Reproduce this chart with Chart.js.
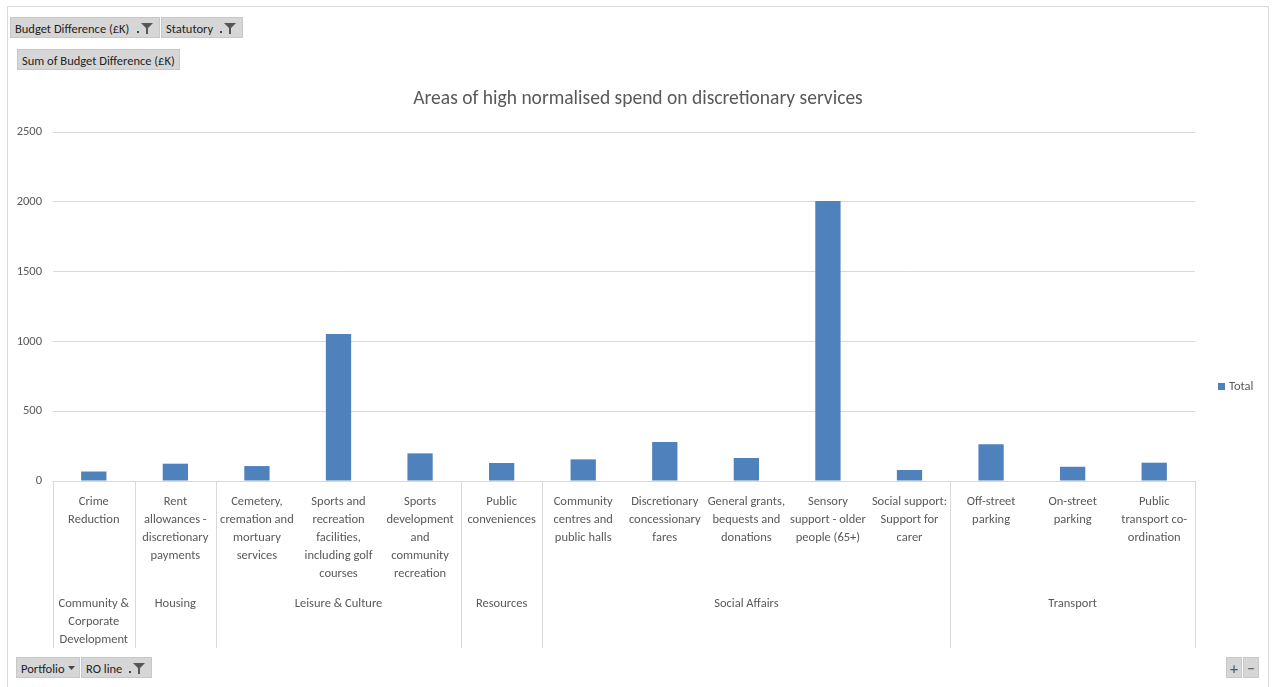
<!DOCTYPE html>
<html>
<head>
<meta charset="utf-8">
<title>Areas of high normalised spend on discretionary services</title>
<script src="https://cdn.jsdelivr.net/npm/chart.js@4.4.1/dist/chart.umd.min.js"></script>
<style>
  html, body { margin: 0; padding: 0; background: #fff; }
  body { width: 1274px; height: 687px; position: relative; overflow: hidden;
         font-family: Carlito, Lato, "Liberation Sans", sans-serif; }
  #frame { position: absolute; left: 7px; top: 6px; width: 1262px; height: 690px;
           border: 1px solid #d9d9d9; box-sizing: border-box; }
  #wrap { position: absolute; left: 0; top: 0; width: 1274px; height: 687px; }
  .btn { position: absolute; height: 21px; line-height: 21px; background: #d6d6d6;
         border: 1px solid #c8c8c8; box-sizing: border-box; font-size: 12.5px;
         color: #1f1f1f; padding: 0 4px; white-space: nowrap; }
  .btn svg { position: absolute; top: 4px; }
</style>
</head>
<body>
<div id="frame"></div>
<div id="wrap"><canvas id="grafico" width="1274" height="687"></canvas></div>

<div class="btn" style="left:10px;top:17px;width:150px;">Budget Difference (£K)
  <svg style="right:4px" width="20" height="13" viewBox="0 0 20 13"><rect x="2" y="9" width="2" height="2" fill="#444"/><path d="M6 1h12l-5 5v6h-2V6z" fill="#555"/></svg></div>
<div class="btn" style="left:161px;top:17px;width:82px;">Statutory
  <svg style="right:4px" width="20" height="13" viewBox="0 0 20 13"><rect x="2" y="9" width="2" height="2" fill="#444"/><path d="M6 1h12l-5 5v6h-2V6z" fill="#555"/></svg></div>
<div class="btn" style="left:17px;top:49px;width:163px;">Sum of Budget Difference (£K)</div>

<div class="btn" style="left:16px;top:657px;width:64px;">Portfolio
  <svg style="right:4px;top:8px" width="7" height="5" viewBox="0 0 7 5"><path d="M0 0h7L3.5 4z" fill="#444"/></svg></div>
<div class="btn" style="left:81px;top:657px;width:71px;">RO line
  <svg style="right:4px" width="20" height="13" viewBox="0 0 20 13"><rect x="2" y="9" width="2" height="2" fill="#444"/><path d="M6 1h12l-5 5v6h-2V6z" fill="#555"/></svg></div>
<div class="btn" style="left:1226px;top:657px;width:16px;padding:0;text-align:center;color:#555;font-size:16px;">+</div>
<div class="btn" style="left:1243px;top:657px;width:16px;padding:0;text-align:center;color:#555;font-size:16px;">−</div>

<script>
// categorías (una línea por elemento del array) y su portfolio
const categorias = [
  ["Crime", "Reduction"],
  ["Rent", "allowances -", "discretionary", "payments"],
  ["Cemetery,", "cremation and", "mortuary", "services"],
  ["Sports and", "recreation", "facilities,", "including golf", "courses"],
  ["Sports", "development", "and", "community", "recreation"],
  ["Public", "conveniences"],
  ["Community", "centres and", "public halls"],
  ["Discretionary", "concessionary", "fares"],
  ["General grants,", "bequests and", "donations"],
  ["Sensory", "support - older", "people (65+)"],
  ["Social support:", "Support for", "carer"],
  ["Off-street", "parking"],
  ["On-street", "parking"],
  ["Public", "transport co-", "ordination"]
];
const grupos = [
  ["Community &", "Corporate", "Development"],
  ["Housing"],
  ["Leisure & Culture"],
  ["Resources"],
  ["Social Affairs"],
  ["Transport"]
];
// cuántas categorías entran en cada grupo
const tamGrupos = [1, 1, 3, 1, 5, 3];
const totales = [68, 124, 107, 1053, 198, 129, 155, 279, 165, 2006, 79, 263, 102, 131];
const ticksY = [0, 500, 1000, 1500, 2000, 2500];

const FUENTE = "Carlito, Lato, 'Liberation Sans', sans-serif";
const GRIS = "#595959";
const LINEA = "#d9d9d9";

// etiquetas de portfolio y separadores debajo del eje X
const ejeAgrupado = {
  id: "ejeAgrupado",
  afterDraw(chart) {
    const ctx = chart.ctx;
    const x = chart.scales.x;
    const area = chart.chartArea;
    const paso = x.getPixelForValue(1) - x.getPixelForValue(0);
    const abajo = 648;

    ctx.save();
    ctx.strokeStyle = LINEA;
    ctx.lineWidth = 1;
    let i = 0;
    const bordes = [area.left];
    tamGrupos.forEach((n) => { i += n; bordes.push(x.getPixelForValue(i - 1) + paso / 2); });
    bordes.forEach((b) => {
      const px = Math.round(b) + 0.5;
      ctx.beginPath();
      ctx.moveTo(px, area.bottom);
      ctx.lineTo(px, abajo);
      ctx.stroke();
    });

    ctx.fillStyle = GRIS;
    ctx.font = "12.5px " + FUENTE;
    ctx.textAlign = "center";
    ctx.textBaseline = "middle";
    grupos.forEach((g, k) => {
      const cx = (bordes[k] + bordes[k + 1]) / 2;
      g.forEach((linea, j) => ctx.fillText(linea, cx, 604 + j * 18));
    });

    // leyenda
    ctx.fillStyle = "#4f81bd";
    ctx.fillRect(1218, 383, 7, 7);
    ctx.fillStyle = GRIS;
    ctx.textAlign = "left";
    ctx.fillText("Total", 1229, 387);
    ctx.restore();
  }
};

new Chart(document.getElementById("grafico"), {
  type: "bar",
  data: {
    labels: categorias,
    datasets: [{
      label: "Total",
      data: totales,
      backgroundColor: "#4f81bd",
      borderWidth: 0,
      categoryPercentage: 1,
      barPercentage: 0.31
    }]
  },
  options: {
    responsive: false,
    animation: false,
    layout: { padding: { left: 0, right: 79, top: 132, bottom: 0 } },
    plugins: {
      legend: { display: false },
      tooltip: { enabled: false },
      title: { display: false }
    },
    scales: {
      x: {
        grid: { display: false, drawTicks: false },
        border: { display: true, color: LINEA, width: 1 },
        ticks: {
          autoSkip: false, maxRotation: 0, minRotation: 0, padding: 12,
          color: GRIS, font: { family: FUENTE, size: 12.5, lineHeight: "18px" }
        },
        afterFit(scale) { scale.height = 206; }
      },
      y: {
        min: 0,
        max: 2500,
        afterBuildTicks(scale) { scale.ticks = ticksY.map((v) => ({ value: v })); },
        grid: { color: LINEA, drawTicks: false },
        border: { display: false },
        ticks: {
          padding: 11, color: GRIS, font: { family: FUENTE, size: 12.5 },
          callback: (v) => String(v)
        },
        afterFit(scale) { scale.width = 53; }
      }
    }
  },
  plugins: [ejeAgrupado, {
    id: "titulo",
    afterDraw(chart) {
      const ctx = chart.ctx;
      ctx.save();
      ctx.fillStyle = GRIS;
      ctx.font = "19.5px " + FUENTE;
      ctx.textAlign = "center";
      ctx.textBaseline = "middle";
      ctx.fillText("Areas of high normalised spend on discretionary services", 638, 99);
      ctx.restore();
    }
  }]
});
</script>
</body>
</html>
